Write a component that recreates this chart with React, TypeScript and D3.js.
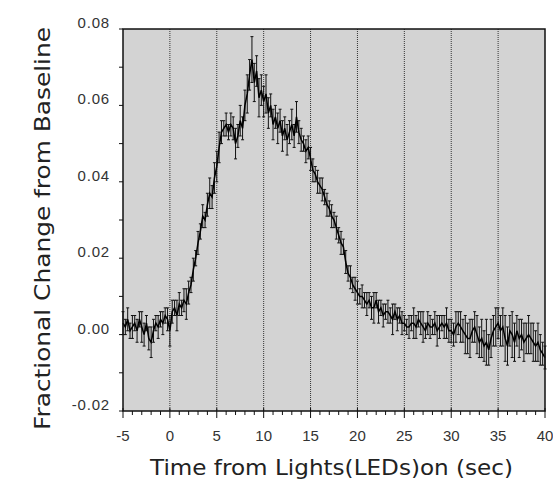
import { useEffect, useRef } from 'react';
import * as d3 from 'd3';

// sampling: one value every 0.25 s starting at -5 s
const startTime = -5;
const timeStep = 0.25;

// mean fractional change (grouped by 5 s spans)
const meanValues: number[] = [
  // -5 .. 0
  0.003, 0.002, 0.004, 0.001, 0.002, 0.003, 0.001, 0.004, 0.002, 0.000, 0.003, -0.001, -0.002, 0.001, 0.003, 0.002, 0.004, 0.003, 0.005, 0.004, 0.001,
  // 0.25 .. 5
  0.006, 0.007, 0.005, 0.008, 0.007, 0.009, 0.008, 0.011, 0.013, 0.017, 0.020, 0.024, 0.027, 0.031, 0.030, 0.034, 0.037, 0.036, 0.041, 0.044,
  // 5.25 .. 10
  0.049, 0.053, 0.054, 0.055, 0.053, 0.055, 0.054, 0.050, 0.052, 0.056, 0.054, 0.060, 0.063, 0.068, 0.072, 0.066, 0.069, 0.062, 0.064, 0.061,
  // 10.25 .. 15
  0.063, 0.058, 0.060, 0.055, 0.057, 0.054, 0.056, 0.052, 0.054, 0.051, 0.053, 0.055, 0.052, 0.057, 0.053, 0.051, 0.050, 0.048, 0.049, 0.046,
  // 15.25 .. 20
  0.043, 0.042, 0.040, 0.039, 0.038, 0.036, 0.034, 0.033, 0.031, 0.030, 0.028, 0.026, 0.024, 0.023, 0.019, 0.016, 0.015, 0.013, 0.012, 0.011,
  // 20.25 .. 25
  0.010, 0.010, 0.009, 0.008, 0.009, 0.007, 0.007, 0.009, 0.006, 0.007, 0.005, 0.006, 0.006, 0.005, 0.004, 0.006, 0.004, 0.005, 0.003, 0.003,
  // 25.25 .. 30
  0.002, 0.002, 0.003, 0.003, 0.002, 0.004, 0.003, 0.002, 0.001, 0.003, 0.002, 0.002, 0.003, 0.001, 0.002, 0.003, 0.002, 0.003, 0.001, 0.001,
  // 30.25 .. 35
  0.000, 0.002, 0.003, 0.002, 0.001, 0.000, -0.001, -0.001, 0.001, 0.002, 0.000, -0.002, -0.001, -0.003, -0.002, -0.004, -0.001, 0.001, 0.002, 0.003,
  // 35.25 .. 40
  0.001, 0.002, -0.001, -0.003, 0.001, 0.000, -0.002, 0.001, -0.001, 0.000, -0.002, -0.001, 0.000, -0.001, -0.002, -0.003, -0.002, -0.004, -0.005, -0.006,
];

// half length of each error bar
const errorValues: number[] = [
  0.003, 0.002, 0.003, 0.002, 0.003, 0.002, 0.003, 0.002, 0.004, 0.003, 0.002, 0.003, 0.004, 0.003, 0.002, 0.003, 0.002, 0.003, 0.002, 0.003, 0.004,
  0.003, 0.002, 0.004, 0.003, 0.002, 0.003, 0.004, 0.003, 0.002, 0.003, 0.002, 0.003, 0.002, 0.003, 0.002, 0.003, 0.004, 0.003, 0.004, 0.004,
  0.004, 0.003, 0.002, 0.003, 0.002, 0.003, 0.003, 0.004, 0.003, 0.004, 0.003, 0.004, 0.005, 0.004, 0.006, 0.005, 0.004, 0.005, 0.004, 0.004,
  0.005, 0.004, 0.003, 0.004, 0.003, 0.004, 0.003, 0.004, 0.003, 0.004, 0.003, 0.004, 0.003, 0.004, 0.003, 0.003, 0.002, 0.003, 0.003, 0.003,
  0.003, 0.002, 0.003, 0.002, 0.003, 0.002, 0.003, 0.002, 0.003, 0.002, 0.003, 0.002, 0.003, 0.002, 0.003, 0.002, 0.003, 0.002, 0.003, 0.003,
  0.002, 0.003, 0.002, 0.003, 0.002, 0.003, 0.004, 0.002, 0.003, 0.002, 0.003, 0.002, 0.003, 0.002, 0.004, 0.002, 0.003, 0.002, 0.003, 0.002,
  0.002, 0.003, 0.002, 0.004, 0.003, 0.002, 0.003, 0.004, 0.002, 0.003, 0.003, 0.002, 0.003, 0.004, 0.003, 0.002, 0.003, 0.004, 0.003, 0.003,
  0.003, 0.004, 0.003, 0.004, 0.003, 0.005, 0.004, 0.005, 0.003, 0.004, 0.005, 0.004, 0.005, 0.004, 0.006, 0.004, 0.005, 0.004, 0.005, 0.004,
  0.004, 0.005, 0.006, 0.005, 0.004, 0.006, 0.005, 0.004, 0.005, 0.004, 0.005, 0.004, 0.005, 0.004, 0.005, 0.004, 0.005, 0.004, 0.003, 0.003,
];

const xTicks = [-5, 0, 5, 10, 15, 20, 25, 30, 35, 40];
const yTicks = [-0.02, 0, 0.02, 0.04, 0.06, 0.08];
const gridTimes = [0, 5, 10, 15, 20, 25, 30, 35];

const W = 553;
const H = 489;
const margin = { top: 29, right: 8, bottom: 78, left: 123 };
const tickFont = '"Liberation Sans", Arial, sans-serif';
const titleFont = '"DejaVu Sans", "Liberation Sans", sans-serif';

export default function App() {
  const ref = useRef<SVGSVGElement>(null);

  useEffect(() => {
    if (!ref.current) return;
    const root = d3.select(ref.current);
    root.selectAll('*').remove();

    const pw = W - margin.left - margin.right;
    const ph = H - margin.top - margin.bottom;

    const x = d3.scaleLinear().domain([-5, 40]).range([0, pw]);
    const y = d3.scaleLinear().domain([-0.02, 0.08]).range([ph, 0]);

    const data = meanValues.map((v, i) => ({
      t: startTime + i * timeStep,
      v,
      e: errorValues[i] ?? 0.003,
    }));

    const g = root.append('g').attr('transform', `translate(${margin.left},${margin.top})`);

    // plot background
    g.append('rect')
      .attr('width', pw)
      .attr('height', ph)
      .attr('fill', '#d3d3d3');

    // dotted verticals
    g.selectAll('.grid')
      .data(gridTimes)
      .enter()
      .append('line')
      .attr('x1', d => x(d))
      .attr('x2', d => x(d))
      .attr('y1', 0)
      .attr('y2', ph)
      .attr('stroke', '#333')
      .attr('stroke-width', 1)
      .attr('stroke-dasharray', '1,1');

    // error bars
    const bars = g.append('g').attr('stroke', '#111').attr('stroke-width', 1);
    bars.selectAll('line.eb')
      .data(data)
      .enter()
      .append('line')
      .attr('x1', d => x(d.t))
      .attr('x2', d => x(d.t))
      .attr('y1', d => y(d.v - d.e))
      .attr('y2', d => y(d.v + d.e));
    bars.selectAll('line.cap-top')
      .data(data)
      .enter()
      .append('line')
      .attr('x1', d => x(d.t) - 1.5)
      .attr('x2', d => x(d.t) + 1.5)
      .attr('y1', d => y(d.v + d.e))
      .attr('y2', d => y(d.v + d.e));
    bars.selectAll('line.cap-bot')
      .data(data)
      .enter()
      .append('line')
      .attr('x1', d => x(d.t) - 1.5)
      .attr('x2', d => x(d.t) + 1.5)
      .attr('y1', d => y(d.v - d.e))
      .attr('y2', d => y(d.v - d.e));

    // mean line
    const line = d3.line<{ t: number; v: number }>()
      .x(d => x(d.t))
      .y(d => y(d.v));
    g.append('path')
      .datum(data)
      .attr('d', line)
      .attr('fill', 'none')
      .attr('stroke', '#000')
      .attr('stroke-width', 1.5);

    // frame
    g.append('rect')
      .attr('width', pw)
      .attr('height', ph)
      .attr('fill', 'none')
      .attr('stroke', '#111')
      .attr('stroke-width', 1.5);

    // x axis ticks
    const xMinor = d3.range(-5, 41, 1);
    g.append('g')
      .selectAll('line')
      .data(xMinor)
      .enter()
      .append('line')
      .attr('x1', d => x(d))
      .attr('x2', d => x(d))
      .attr('y1', d => (d % 5 === 0 ? ph - 3 : ph))
      .attr('y2', d => ph + (d % 5 === 0 ? 7 : 4))
      .attr('stroke', '#111')
      .attr('stroke-width', 1);

    g.append('g')
      .selectAll('text')
      .data(xTicks)
      .enter()
      .append('text')
      .attr('x', d => x(d))
      .attr('y', ph + 30)
      .attr('text-anchor', 'middle')
      .style('font-family', tickFont)
      .style('font-size', '15px')
      .style('fill', '#333')
      .text(d => String(d));

    // y axis ticks
    const yMinor = d3.range(-0.02, 0.0801, 0.01);
    g.append('g')
      .selectAll('line')
      .data(yMinor)
      .enter()
      .append('line')
      .attr('x1', -4)
      .attr('x2', 0)
      .attr('y1', d => y(d))
      .attr('y2', d => y(d))
      .attr('stroke', '#111')
      .attr('stroke-width', 1);

    g.append('g')
      .selectAll('text')
      .data(yTicks)
      .enter()
      .append('text')
      .attr('x', -13)
      .attr('y', d => y(d) - 1)
      .attr('text-anchor', 'end')
      .style('font-family', tickFont)
      .style('font-size', '15px')
      .style('letter-spacing', '0.8px')
      .style('fill', '#333')
      .text(d => d.toFixed(2));

    // axis titles
    root.append('text')
      .attr('x', 331.5)
      .attr('y', 475)
      .attr('text-anchor', 'middle')
      .attr('textLength', 363)
      .attr('lengthAdjust', 'spacingAndGlyphs')
      .style('font-family', titleFont)
      .style('font-size', '21px')
      .style('fill', '#222')
      .text('Time from Lights(LEDs)on (sec)');

    root.append('text')
      .attr('transform', `translate(50,${228.5}) rotate(-90)`)
      .attr('text-anchor', 'middle')
      .attr('textLength', 403)
      .attr('lengthAdjust', 'spacingAndGlyphs')
      .style('font-family', titleFont)
      .style('font-size', '21px')
      .style('fill', '#222')
      .text('Fractional Change from Baseline');
  }, []);

  return (
    <svg
      ref={ref}
      width={W}
      height={H}
      style={{ position: 'absolute', left: 0, top: 0, background: '#fff' }}
    />
  );
}
